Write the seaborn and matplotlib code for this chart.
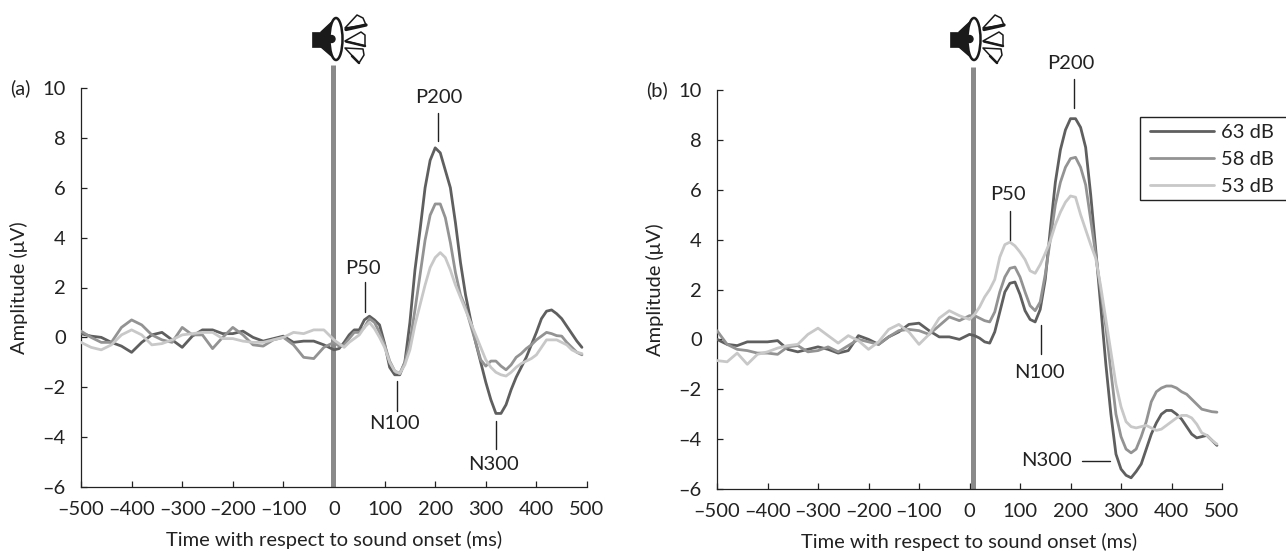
import numpy as np
import pandas as pd
import matplotlib
matplotlib.use('Agg')
import matplotlib.pyplot as plt
import seaborn as sns
from matplotlib.patches import Ellipse, Polygon, Rectangle, Circle

# baseline every 20 ms, post-onset every 10 ms
tempo = list(range(-500, 0, 20)) + list(range(0, 500, 10))

a_63 = [0.15, 0.05, 0.0, -0.2, -0.35, -0.6, -0.2, 0.1, 0.2, -0.1, -0.4, 0.05, 0.3, 0.3, 0.15, 0.15, 0.25, 0.0, -0.15, -0.05, 0.05, -0.2, -0.15, -0.15, -0.3,
        -0.5, -0.45, -0.2, 0.1, 0.3, 0.3, 0.7, 0.85, 0.7, 0.5, -0.25, -1.2, -1.5, -1.5, -1.0, 0.6, 2.7, 4.3, 6.0, 7.1, 7.6, 7.4, 6.7, 6.0, 4.6, 3.0, 1.7, 0.7, -0.2, -1.0, -1.8, -2.5, -3.05, -3.05, -2.7, -2.1, -1.6, -1.2, -0.8, -0.3, 0.2, 0.75, 1.05, 1.1, 0.95, 0.75, 0.45, 0.15, -0.15, -0.4]
a_58 = [0.25, 0.0, -0.2, -0.2, 0.4, 0.7, 0.5, 0.1, -0.1, -0.2, 0.4, 0.1, 0.1, -0.45, 0.0, 0.4, 0.1, -0.3, -0.35, -0.1, 0.0, -0.3, -0.8, -0.85, -0.4,
        -0.2, -0.35, -0.3, -0.05, 0.2, 0.2, 0.4, 0.75, 0.6, 0.2, -0.3, -0.95, -1.35, -1.45, -1.0, -0.2, 1.1, 2.5, 3.9, 4.9, 5.35, 5.35, 4.8, 3.8, 2.6, 1.7, 1.2, 0.5, -0.2, -0.9, -1.15, -0.95, -0.95, -1.15, -1.3, -1.1, -0.8, -0.65, -0.45, -0.3, -0.1, 0.05, 0.2, 0.15, 0.07, 0.05, -0.2, -0.4, -0.6, -0.7]
a_53 = [-0.2, -0.4, -0.5, -0.3, 0.1, 0.3, 0.1, -0.3, -0.25, -0.1, 0.1, 0.15, 0.2, 0.2, -0.05, -0.05, -0.15, -0.2, -0.2, -0.1, 0.0, 0.2, 0.15, 0.3, 0.3,
        -0.1, -0.25, -0.4, -0.2, -0.05, 0.1, 0.4, 0.6, 0.35, 0.0, -0.4, -1.0, -1.35, -1.45, -1.1, -0.5, 0.5, 1.3, 2.1, 2.8, 3.2, 3.4, 3.2, 2.7, 2.1, 1.6, 1.1, 0.6, 0.1, -0.4, -0.9, -1.2, -1.4, -1.5, -1.55, -1.4, -1.2, -1.05, -0.95, -0.85, -0.7, -0.4, -0.1, -0.1, -0.1, -0.2, -0.3, -0.5, -0.6, -0.65]

b_63 = [0.0, -0.2, -0.25, -0.1, -0.1, -0.1, -0.05, -0.4, -0.5, -0.4, -0.3, -0.4, -0.55, -0.45, 0.15, 0.0, -0.2, 0.1, 0.3, 0.6, 0.65, 0.35, 0.1, 0.1, 0.0,
        0.2, 0.15, 0.05, -0.1, -0.15, 0.3, 1.1, 1.9, 2.25, 2.3, 1.8, 1.15, 0.8, 0.7, 1.2, 2.4, 4.4, 6.3, 7.6, 8.4, 8.85, 8.85, 8.5, 7.7, 5.8, 3.6, 1.3, -1.0, -3.0, -4.6, -5.2, -5.45, -5.55, -5.3, -5.0, -4.4, -3.8, -3.35, -3.0, -2.85, -2.85, -3.0, -3.2, -3.5, -3.8, -3.95, -3.9, -3.85, -4.05, -4.25]
b_58 = [0.35, -0.2, -0.4, -0.45, -0.55, -0.55, -0.6, -0.3, -0.25, -0.5, -0.45, -0.3, -0.5, -0.25, 0.0, -0.1, -0.2, 0.1, 0.35, 0.4, 0.35, 0.2, 0.55, 0.9, 0.75,
        0.95, 0.95, 0.85, 0.75, 0.7, 1.1, 1.9, 2.5, 2.85, 2.9, 2.5, 1.9, 1.35, 1.15, 1.5, 2.6, 4.0, 5.4, 6.3, 6.9, 7.25, 7.3, 6.9, 6.2, 4.8, 3.4, 1.9, 0.5, -1.3, -3.0, -3.9, -4.4, -4.55, -4.4, -3.9, -3.3, -2.5, -2.1, -1.95, -1.87, -1.87, -1.95, -2.1, -2.2, -2.4, -2.6, -2.8, -2.85, -2.9, -2.92]
b_53 = [-0.85, -0.9, -0.55, -1.0, -0.6, -0.5, -0.35, -0.25, -0.2, 0.2, 0.45, 0.15, -0.15, 0.15, -0.05, -0.4, -0.1, 0.4, 0.6, 0.3, -0.2, 0.2, 0.85, 1.15, 0.95,
        0.8, 1.0, 1.3, 1.7, 2.0, 2.4, 3.3, 3.8, 3.9, 3.75, 3.5, 3.2, 2.75, 2.65, 3.0, 3.45, 3.95, 4.6, 5.1, 5.5, 5.75, 5.7, 5.0, 4.4, 3.8, 3.25, 2.1, 0.8, -0.5, -1.8, -2.7, -3.3, -3.5, -3.55, -3.5, -3.45, -3.55, -3.65, -3.6, -3.45, -3.3, -3.15, -3.05, -3.05, -3.15, -3.4, -3.75, -3.85, -4.05, -4.2]

niveis = ['63 dB', '58 dB', '53 dB']
cores = ['#5f5f5f', '#939393', '#c8c8c8']
xticks = list(range(-500, 501, 100))
yticks = list(range(-6, 11, 2))

L, H = 1286, 553
TINTA = '#222222'
FS = 14.5

sns.set_theme(style='white')
plt.rcParams['font.family'] = ['Lato', 'DejaVu Sans']

fig = plt.figure(figsize=(L / 100, H / 100), dpi=100)


def montar(series):
    linhas = []
    for nome, vals in zip(niveis, series):
        linhas.append(pd.DataFrame({'tempo': tempo, 'amp': vals, 'nivel': nome}))
    return pd.concat(linhas)


def painel(caixa, series, letra, x_som, marcas, legenda=False):
    x0, x1, y0, y1 = caixa
    ax = fig.add_axes([x0 / L, 1 - y1 / H, (x1 - x0) / L, (y1 - y0) / H])
    ax.patch.set_alpha(0)
    sns.lineplot(data=montar(series), x='tempo', y='amp', hue='nivel', hue_order=niveis,
                 palette=cores, linewidth=2, errorbar=None, ax=ax, legend=legenda, zorder=3)
    ax.set_xlim(-500, 500)
    ax.set_ylim(-6, 10)
    ax.set_xticks(xticks)
    ax.set_yticks(yticks)
    ax.set_xticklabels([str(v).replace('-', '\u2013') for v in xticks])
    ax.set_yticklabels([str(v).replace('-', '\u2013') for v in yticks])
    ax.tick_params(axis='x', direction='in', length=4, width=0.9, color=TINTA, labelsize=FS,
                   labelcolor=TINTA, pad=10, bottom=True)
    ax.tick_params(axis='y', direction='in', length=4, width=0.9, color=TINTA, labelsize=FS,
                   labelcolor=TINTA, pad=11, left=True)
    ax.set_xlabel('Time with respect to sound onset (ms)', fontsize=FS, color=TINTA)
    ax.set_ylabel('Amplitude (\u03bcV)', fontsize=FS, color=TINTA)
    ax.xaxis.set_label_coords(0.5, -0.134, transform=ax.transAxes)
    ax.xaxis.label.set_va('center')
    ax.yaxis.set_label_coords(-0.122, 0.5, transform=ax.transAxes)
    ax.yaxis.label.set_va('center')
    sns.despine(ax=ax)
    for s in ['left', 'bottom']:
        ax.spines[s].set_linewidth(0.9)
        ax.spines[s].set_color(TINTA)
    # linha do inicio do som, sai para fora do eixo
    ax.plot([x_som, x_som], [-6, 10.92], color='#8a8a8a', lw=3.6, clip_on=False, zorder=2, solid_capstyle='butt')
    ax.text(-0.14, 1.0, letra, transform=ax.transAxes, fontsize=FS, color=TINTA, va='center', ha='left')
    for texto, xt, yt, xs, ys in marcas:
        ax.text(xt, yt, texto, fontsize=FS, color=TINTA, ha='center', va='center', clip_on=False)
        ax.plot(xs, ys, color=TINTA, lw=1, clip_on=False, zorder=4)
    if legenda:
        # caixa passa da borda direita, como no original
        fig.add_artist(Rectangle((1140 / L, 1 - 200 / H), (L + 5 - 1140) / L, 83 / H, transform=fig.transFigure,
                                 fc='white', ec=TINTA, lw=1, zorder=-1))
        leg = ax.legend(loc='upper left', bbox_to_anchor=(1150 / L, 1 - 124 / H),
                        bbox_transform=fig.transFigure, frameon=False, fontsize=FS, title=None,
                        handlelength=3.2, handletextpad=0.35, labelspacing=0.5, borderpad=0, borderaxespad=0)
        for t in leg.get_texts():
            t.set_color(TINTA)
    return ax


def alto_falante(cx):
    # desenho do alto-falante em pixels da figura, cx = centro do cone
    ov = fig.add_axes([0, 0, 1, 1], zorder=5)
    ov.set_xlim(0, L)
    ov.set_ylim(H, 0)
    ov.axis('off')
    ov.patch.set_alpha(0)
    ink = '#1a1a1a'
    ov.add_patch(Rectangle((cx - 23, 32), 10, 15, fc=ink, ec=ink, lw=0.5))
    ov.add_patch(Polygon([(cx - 14, 32), (cx + 1, 18), (cx + 1, 60), (cx - 14, 47)], fc=ink, ec=ink))
    ov.add_patch(Ellipse((cx + 1, 39), 13, 42, fc='white', ec=ink, lw=1.8))
    ov.add_patch(Circle((cx - 3.5, 39), 3.5, fc=ink, ec=ink))
    petalas = [[(cx + 10, 28), (cx + 22, 15), (cx + 28, 18), (cx + 31, 25)],
               [(cx + 10, 41), (cx + 26, 32), (cx + 30, 35), (cx + 30, 46)],
               [(cx + 10, 48), (cx + 28, 49), (cx + 29, 55), (cx + 24, 63)]]
    for p in petalas:
        ov.add_patch(Polygon(p, closed=True, fc='white', ec=ink, lw=1.1, joinstyle='round'))
    ov.plot([cx + 11, cx + 31], [29.5, 25], color=ink, lw=2.4)
    ov.plot([cx + 11, cx + 30], [41.5, 46], color=ink, lw=1.8)
    ov.plot([cx + 17, cx + 24], [56, 63], color=ink, lw=1.8)


marcas_a = [('P200', 207, 9.6, [205, 205], [7.87, 9.0]),
            ('P50', 57, 2.78, [61, 61], [1.02, 2.22]),
            ('N100', 120, -3.47, [125, 125], [-1.75, -2.95]),
            ('N300', 316, -5.08, [320, 320], [-3.35, -4.47])]
marcas_b = [('P200', 200, 11.06, [206, 206], [9.29, 10.46]),
            ('P50', 77, 5.8, [80, 80], [3.97, 5.14]),
            ('N100', 139, -1.34, [142, 142], [0.58, -0.6]),
            ('N300', 152, -4.85, [222, 278], [-4.88, -4.88])]

painel((81, 587, 88, 487), [a_63, a_58, a_53], '(a)', -2, marcas_a)
painel((717, 1222, 90, 489), [b_63, b_58, b_53], '(b)', 6, marcas_b, legenda=True)
alto_falante(335)
alto_falante(973)

fig.savefig('out.png', dpi=100)
